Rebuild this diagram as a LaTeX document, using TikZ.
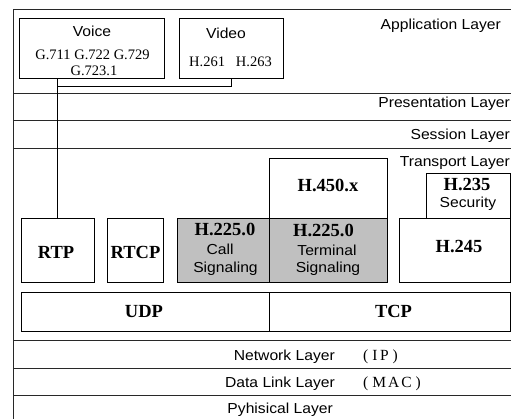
\documentclass[tikz,border=0pt]{standalone}
\usepackage{fontspec}
\setmainfont{Liberation Serif}
\setsansfont{Liberation Sans}[FakeStretch=1.08]
\definecolor{sigfill}{RGB}{192,192,192}
\definecolor{rulegray}{RGB}{40,40,40}
\tikzset{
  box/.style={draw, line width=0.9pt, inner sep=0pt, outer sep=0pt, rectangle},
  sigbox/.style={box, fill=sigfill},
  lbl/.style={font=\sffamily\fontsize{14.5}{16}\selectfont, inner sep=0pt, anchor=base},
  layerlbl/.style={lbl, anchor=base east},
  proto/.style={font=\bfseries\fontsize{18.5}{20}\selectfont, inner sep=0pt, anchor=base},
  codec/.style={font=\fontsize{14.5}{16}\selectfont, inner sep=0pt, anchor=base},
  addr/.style={font=\fontsize{15.5}{17}\selectfont, inner sep=0pt, anchor=base west},
  rule/.style={line width=0.9pt, draw=rulegray},
  link/.style={line width=0.9pt},
}
\begin{document}
\begin{tikzpicture}[x=1pt, y=-1pt]
\useasboundingbox (0,0) rectangle (511,418);
\clip (0,0) rectangle (511,418);

% outer frame and layer separators
\draw[rule] (13,430) -- (13,9) -- (530,9);
\foreach \yy in {93,120,148,340,368,395}
  \draw[rule] (13,\yy) -- (530,\yy);

% layer names
\node[layerlbl] (app)   at (501,29.5)  {Application Layer};
\node[layerlbl] (pres)  at (510,107)   {Presentation Layer};
\node[layerlbl] (sess)  at (510,139.5) {Session Layer};
\node[layerlbl] (trans) at (510,166.5) {Transport Layer};
\node[layerlbl] (net)   at (335,360)   {Network Layer};
\node[layerlbl] (dlink) at (335,387)   {Data Link Layer};
\node[layerlbl] (phys)  at (333,413)   {Pyhisical Layer};
\node[addr] (ip)  at (363,360) {(\kern4pt I\kern2.5pt P\kern4pt)};
\node[addr] (mac) at (363,387) {(\kern4pt M\kern2pt A\kern2pt C\kern4pt)};

% application codecs
\node[box, minimum width=145pt, minimum height=60pt] (voice) at (91.5,48) {};
\node[box, minimum width=104pt, minimum height=60pt] (video) at (231,48) {};
\node[lbl]   (voicet) at (92,36)     {Voice};
\node[codec] (g7a)    at (92.5,59)   {G.711 G.722 G.729};
\node[codec] (g7b)    at (94,75.5)   {G.723.1};
\node[lbl]   (videot) at (226,38)    {Video};
\node[codec] (h26)    at (230.5,66)  {H.261\hspace{11pt}H.263};

% transport-level protocol boxes
\node[box, minimum width=73pt,  minimum height=64pt] (rtp)  at (57.5,250) {};
\node[box, minimum width=56pt,  minimum height=64pt] (rtcp) at (135,250)  {};
\node[sigbox, minimum width=92pt,  minimum height=64pt] (call) at (223,250) {};
\node[sigbox, minimum width=118pt, minimum height=64pt] (term) at (328,250) {};
\node[box, minimum width=118pt, minimum height=60pt] (h450) at (328,188) {};
\node[box, minimum width=84pt,  minimum height=45pt] (h235) at (468,195.5) {};
\node[box, minimum width=111pt, minimum height=64pt] (h245) at (454.5,250) {};
\node[box, minimum width=248pt, minimum height=39pt] (udp)  at (145,311.5) {};
\node[box, minimum width=241pt, minimum height=39pt] (tcp)  at (389.5,311.5) {};

\node[proto] (rtpt)   at (56,258.3)   {RTP};
\node[proto] (rtcpt)  at (135.5,258.3) {RTCP};
\node[proto] (callh)  at (225,235)    {H.225.0};
\node[lbl]   (callc)  at (220,254)    {Call};
\node[lbl]   (calls)  at (225.5,272)  {Signaling};
\node[proto] (termh)  at (323.5,236)  {H.225.0};
\node[lbl]   (termt)  at (327,255)    {Terminal};
\node[lbl]   (terms)  at (328,272.7)  {Signaling};
\node[proto] (h450t)  at (328,191.5)  {H.450.x};
\node[proto] (h235t)  at (467,190)    {H.235};
\node[lbl]   (h235s)  at (468,207.5)  {Security};
\node[proto] (h245t)  at (459,252.5)  {H.245};
\node[proto] (udpt)   at (144,317)    {UDP};
\node[proto] (tcpt)   at (393.5,317)  {TCP};

% media paths down to RTP
\coordinate (join) at (57.5,86);
\draw[link] (rtp.north) -- (rtp.north |- voice.south);
\draw[link] (video.south) |- (join);
\end{tikzpicture}
\end{document}
